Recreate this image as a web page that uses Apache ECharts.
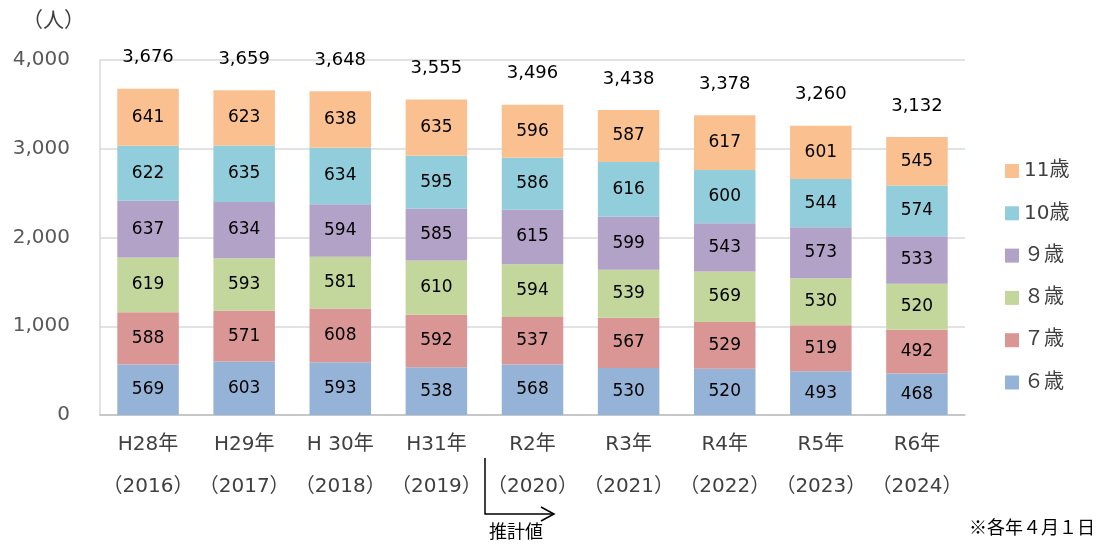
<!DOCTYPE html>
<html><head><meta charset="utf-8">
<script src="https://cdn.jsdelivr.net/npm/echarts@6/dist/echarts.min.js"></script>
<style>html,body{margin:0;padding:0;background:#fff}#c{width:1103px;height:548px}</style>
</head><body><div id="c"></div>
<script>
const categories = ['H28年\n（2016）','H29年\n（2017）','H 30年\n（2018）','H31年\n（2019）','R2年\n（2020）','R3年\n（2021）','R4年\n（2022）','R5年\n（2023）','R6年\n（2024）'];
const age6  = [569,603,593,538,568,530,520,493,468];
const age7  = [588,571,608,592,537,567,529,519,492];
const age8  = [619,593,581,610,594,539,569,530,520];
const age9  = [637,634,594,585,615,599,543,573,533];
const age10 = [622,635,634,595,586,616,600,544,574];
const age11 = [641,623,638,635,596,587,617,601,545];
const totals = [3676,3659,3648,3555,3496,3438,3378,3260,3132];
const seriesNames = ['６歳','７歳','８歳','９歳','10歳','11歳'];
const seriesColors = ['#95B3D7','#D99694','#C3D69B','#B2A2C7','#92CDDC','#FAC090'];
const yTicks = [0,1000,2000,3000,4000];

const font = '"DejaVu Sans", "Noto Sans CJK JP", sans-serif';
const cjk = '"Noto Sans CJK JP", sans-serif';
const fmt = v => v.toLocaleString('en-US');
const values = [age6, age7, age8, age9, age10, age11];
const series = values.map((d,i)=>({
  name: seriesNames[i], type:'bar', stack:'all', data:d, barWidth:'64%',
  itemStyle:{color:seriesColors[i]},
  label:{show:true, position:'inside', color:'#000', fontSize:17, fontFamily:font},
  emphasis:{disabled:true}
}));
series.push({
  name:'total', type:'bar', data:totals, barWidth:'64%', barGap:'-100%', z:0,
  itemStyle:{color:'rgba(0,0,0,0)'},
  label:{show:true, position:'top', distance:22, color:'#000', fontSize:18, fontFamily:font, formatter:p=>fmt(p.value)},
  emphasis:{disabled:true}, tooltip:{show:false}
});

const chart = echarts.init(document.getElementById('c'));
chart.setOption({
  animation:false,
  textStyle:{fontFamily:font},
  grid:{left:100, right:138, top:60, bottom:133, containLabel:false},
  legend:{
    orient:'vertical', left:1000, top:156, itemWidth:14, itemHeight:14, itemGap:22.3,
    data:['11歳','10歳','９歳','８歳','７歳','６歳'],
    textStyle:{fontSize:20, color:'#404040', fontFamily:font},
    icon:'rect'
  },
  xAxis:{
    type:'category', data:categories,
    axisLine:{lineStyle:{color:'#BFBFBF', width:1.5}}, axisTick:{show:false},
    axisLabel:{color:'#404040', fontSize:20, lineHeight:42, margin:9, fontFamily:font, interval:0}
  },
  yAxis:{
    type:'value', min:0, max:4000, interval:1000,
    axisLine:{show:true, lineStyle:{color:'#D9D9D9', width:1.5}}, axisTick:{show:false},
    splitLine:{lineStyle:{color:'#D9D9D9', width:1.5}},
    axisLabel:{color:'#595959', fontSize:20, margin:30, fontFamily:font, formatter:v=>yTicks.includes(v)?fmt(v):''}
  },
  series:series,
  graphic:[
    {type:'text', left:22, top:9, style:{text:'（人）', fontSize:21, fill:'#404040', fontFamily:cjk}},
    {type:'text', left:969, top:518, style:{text:'※各年４月１日', fontSize:18, fill:'#000', fontFamily:cjk}},
    {type:'polyline', shape:{points:[[485,458],[485,514],[554,514]]}, style:{stroke:'#000', lineWidth:1.5, fill:null}},
    {type:'polyline', shape:{points:[[541,507],[554,514],[541,521]]}, style:{stroke:'#000', lineWidth:1.5, fill:null}},
    {type:'text', left:489, top:522, style:{text:'推計値', fontSize:18, fill:'#000', fontFamily:cjk}}
  ]
});
</script></body></html>
